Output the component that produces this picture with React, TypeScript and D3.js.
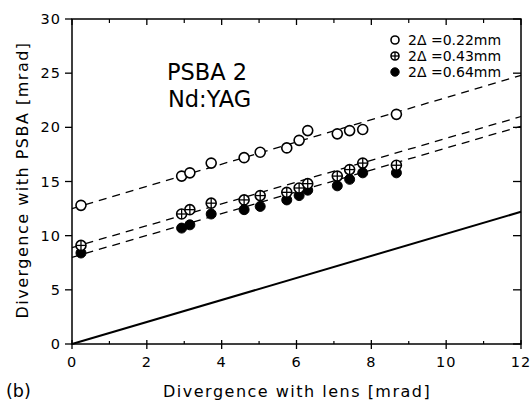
import React from "react";
import * as d3 from "d3";

const xsOpen = [0.24, 2.93, 3.15, 3.72, 4.6, 5.03, 5.74, 6.07, 6.3, 7.09, 7.42, 7.77, 8.67];
const ysOpen = [12.8, 15.5, 15.8, 16.7, 17.2, 17.7, 18.1, 18.8, 19.7, 19.4, 19.7, 19.8, 21.2];
const xsCross = [0.24, 2.93, 3.15, 3.72, 4.6, 5.03, 5.74, 6.07, 6.3, 7.09, 7.42, 7.77, 8.67];
const ysCross = [9.1, 12.0, 12.4, 13.0, 13.3, 13.7, 14.0, 14.4, 14.8, 15.5, 16.1, 16.7, 16.5];
const xsFilled = [0.24, 2.93, 3.15, 3.72, 4.6, 5.03, 5.74, 6.07, 6.3, 7.09, 7.42, 7.77, 8.67];
const ysFilled = [8.4, 10.7, 11.0, 12.0, 12.4, 12.7, 13.3, 13.7, 14.2, 14.6, 15.2, 15.8, 15.8];

// fitted dashed lines: [x0, y0, x1, y1]
const fitOpen = [0, 12.5, 12, 24.8];
const fitCross = [0, 8.9, 12, 21.0];
const fitFilled = [0, 8.0, 12, 20.1];
const refLine = [0, 0, 12, 12.2];

const xTicks = [0, 2, 4, 6, 8, 10, 12];
const xMinor = [1, 3, 5, 7, 9, 11];
const yTicks = [0, 5, 10, 15, 20, 25, 30];
const legendLabels = ["2\u0394 =0.22mm", "2\u0394 =0.43mm", "2\u0394 =0.64mm"];

const FONT = "'DejaVu Sans', sans-serif";

export default function App() {
  const x = d3.scaleLinear().domain([0, 12]).range([72, 521]);
  const y = d3.scaleLinear().domain([0, 30]).range([344, 19]);
  const line = d3.line<number[]>().x((d) => x(d[0])).y((d) => y(d[1]));
  const seg = (a: number[]) => line([[a[0], a[1]], [a[2], a[3]]]) || "";
  const r = 5;

  const openMarker = (cx: number, cy: number, rr: number, k: string) => (
    <circle key={k} cx={cx} cy={cy} r={rr} fill="white" stroke="black" strokeWidth={1.6} />
  );
  const crossMarker = (cx: number, cy: number, rr: number, k: string) => (
    <g key={k}>
      <circle cx={cx} cy={cy} r={rr} fill="white" stroke="black" strokeWidth={1.6} />
      <line x1={cx - rr} x2={cx + rr} y1={cy} y2={cy} stroke="black" strokeWidth={1.3} />
      <line x1={cx} x2={cx} y1={cy - rr} y2={cy + rr} stroke="black" strokeWidth={1.3} />
    </g>
  );
  const filledMarker = (cx: number, cy: number, rr: number, k: string) => (
    <circle key={k} cx={cx} cy={cy} r={rr} fill="black" stroke="black" strokeWidth={1} />
  );

  const [x0, x1] = x.range();
  const [yb, yt] = y.range();

  return (
    <svg
      width={531}
      height={403}
      style={{ position: "absolute", left: 0, top: 0, background: "white" }}
      fontFamily={FONT}
    >
      <rect x={0} y={0} width={531} height={403} fill="white" />
      {/* frame */}
      <rect x={x0} y={yt} width={x1 - x0} height={yb - yt} fill="none" stroke="black" strokeWidth={1.5} />

      {/* x ticks */}
      {xTicks.map((t) => (
        <g key={"xt" + t}>
          <line x1={x(t)} x2={x(t)} y1={yb} y2={yb + 5} stroke="black" strokeWidth={1.3} />
          <line x1={x(t)} x2={x(t)} y1={yb} y2={yb - 4} stroke="black" strokeWidth={1.3} />
          <line x1={x(t)} x2={x(t)} y1={yt} y2={yt + 6} stroke="black" strokeWidth={1.3} />
          <text x={x(t)} y={367} textAnchor="middle" fontSize={14.5} letterSpacing={1}>
            {t}
          </text>
        </g>
      ))}
      {xMinor.map((t) => (
        <g key={"xm" + t}>
          <line x1={x(t)} x2={x(t)} y1={yb} y2={yb - 3} stroke="black" strokeWidth={1.2} />
          <line x1={x(t)} x2={x(t)} y1={yt} y2={yt + 4} stroke="black" strokeWidth={1.2} />
        </g>
      ))}
      {/* y ticks */}
      {yTicks.map((t) => (
        <g key={"yt" + t}>
          <line x1={x0 - 7} x2={x0} y1={y(t)} y2={y(t)} stroke="black" strokeWidth={1.3} />
          <line x1={x1 - 8} x2={x1} y1={y(t)} y2={y(t)} stroke="black" strokeWidth={1.3} />
          <text x={61} y={y(t) + 5} textAnchor="end" fontSize={14.5} letterSpacing={1}>
            {t}
          </text>
        </g>
      ))}

      {/* reference line */}
      <path d={seg(refLine)} stroke="black" strokeWidth={2} fill="none" />
      {/* fits */}
      {[fitOpen, fitCross, fitFilled].map((f, i) => (
        <path key={"f" + i} d={seg(f)} stroke="black" strokeWidth={1.3} strokeDasharray="8,6" fill="none" />
      ))}

      {/* markers */}
      {xsFilled.map((v, i) => filledMarker(x(v), y(ysFilled[i]), r, "fm" + i))}
      {xsCross.map((v, i) => crossMarker(x(v), y(ysCross[i]), r, "cm" + i))}
      {xsOpen.map((v, i) => openMarker(x(v), y(ysOpen[i]), r, "om" + i))}

      {/* legend */}
      {legendLabels.map((lab, i) => {
        const ly = 40 + i * 16;
        const mk =
          i === 0
            ? openMarker(395, ly, 4, "lm" + i)
            : i === 1
            ? crossMarker(395, ly, 4, "lm" + i)
            : filledMarker(395, ly, 4.2, "lm" + i);
        return (
          <g key={"lg" + i}>
            {mk}
            <text x={408} y={ly + 5} fontSize={14}>
              {lab}
            </text>
          </g>
        );
      })}

      {/* annotations */}
      <text x={167} y={80} fontSize={22.5}>PSBA 2</text>
      <text x={168} y={107} fontSize={22.5}>Nd:YAG</text>

      {/* axis labels */}
      <text x={163} y={397} fontSize={16} letterSpacing={1.5}>
        Divergence with lens [mrad]
      </text>
      <text
        transform={`translate(28,${180}) rotate(-90)`}
        textAnchor="middle"
        fontSize={16}
        letterSpacing={1.5}
      >
        Divergence with PSBA [mrad]
      </text>
      <text x={6} y={397} fontSize={17.5}>(b)</text>
    </svg>
  );
}
